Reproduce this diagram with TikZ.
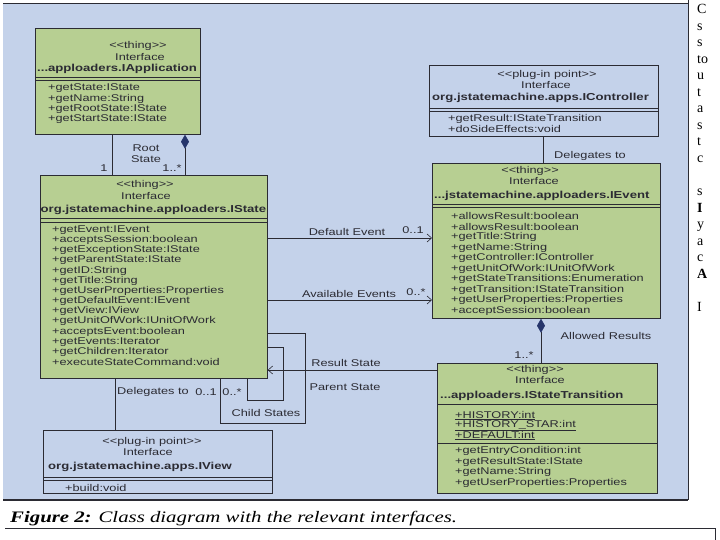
\documentclass[tikz,border=0pt]{standalone}
\usepackage{fontspec}
\setmainfont{Liberation Sans}
\newfontfamily\uml{Liberation Sans}[FakeStretch=1.3]
\newfontfamily\capfont{Liberation Serif}[FakeStretch=1.3]
\newfontfamily\bodyfont{Liberation Serif}
\usetikzlibrary{arrows.meta}
\definecolor{bg}{HTML}{C4D2EA}
\definecolor{boxgreen}{HTML}{B7CF92}
\definecolor{ink}{HTML}{2B2B33}
\definecolor{navy}{HTML}{26356B}
\begin{document}
\begin{tikzpicture}[x=1pt,y=-1pt,
  cls/.style={draw=ink, line width=0.7pt, anchor=north west, inner sep=0pt},
  greenbox/.style={fill=boxgreen},
  plugbox/.style={fill=bg},
  txt/.style={font=\uml\fontsize{9.8}{10}\selectfont, text=ink, inner sep=0pt},
  meth/.style={txt, anchor=west},
  head/.style={txt, anchor=center},
  cname/.style={font=\uml\bfseries\fontsize{10.1}{11}\selectfont, text=ink, inner sep=0pt, anchor=west},
  lab/.style={txt, anchor=center},
  conn/.style={draw=ink, line width=0.6pt},
  sepline/.style={draw=ink, line width=0.6pt},
  openarrow/.style={-{Straight Barb[length=4.5pt,width=8pt]}},
  aggr/.style={{Diamond[length=14pt,width=8pt,color=navy,fill=navy]}-},
]
\useasboundingbox (0,0) rectangle (720,540);
\fill[white] (0,0) rectangle (720,540);
\fill[bg] (3,3) rectangle (688,500);
\draw[ink, line width=0.6pt] (3,3) -- (688,3);
\draw[ink, line width=1pt] (688,0) -- (688,500);
\draw[ink, line width=1.3pt] (3,500) -- (688,500);
\draw[ink, line width=1pt] (5,528) -- (715,528) -- (715,540);

% ---------- class boxes ----------
\node[cls,greenbox,minimum width=165pt,minimum height=106pt] (iapp) at (35,28) {};
\node[cls,greenbox,minimum width=227pt,minimum height=203pt] (istate) at (40,175) {};
\node[cls,plugbox,minimum width=229pt,minimum height=71pt] (icontroller) at (429,65) {};
\node[cls,greenbox,minimum width=228pt,minimum height=155pt] (ievent) at (432,163) {};
\node[cls,greenbox,minimum width=220pt,minimum height=130pt] (itrans) at (437,363) {};
\node[cls,plugbox,minimum width=229pt,minimum height=63pt] (iview) at (43,430) {};

% IApplication
\node[head] (iappst) at (138,46) {<{}<thing>{}>};
\node[head] (iappif) at (140,57) {Interface};
\node[cname] (iappnm) at (37,69) {...apploaders.IApplication};
\draw[sepline] (35,77) -- (200,77);
\draw[sepline] (35,80.5) -- (200,80.5);
\foreach \m [count=\i from 0] in {+getState:IState,+getName:String,+getRootState:IState,+getStartState:IState}
  \node[meth] (iappm\i) at (48,{88+10.5*\i}) {\m};

% IState
\node[head] (istst) at (145,185) {<{}<thing>{}>};
\node[head] (istif) at (146,196) {Interface};
\node[cname] (istnm) at (40.5,210) {org.jstatemachine.apploaders.IState};
\draw[sepline] (40,218) -- (267,218);
\draw[sepline] (40,222) -- (267,222);
\foreach \m [count=\i from 0] in {+getEvent:IEvent,+acceptsSession:boolean,+getExceptionState:IState,+getParentState:IState,+getID:String,+getTitle:String,+getUserProperties:Properties,+getDefaultEvent:IEvent,+getView:IView,+getUnitOfWork:IUnitOfWork,+acceptsEvent:boolean,+getEvents:Iterator,+getChildren:Iterator,+executeStateCommand:void}
  \node[meth] (istm\i) at (52,{230+10.15*\i}) {\m};

% IController
\node[head] (ictst) at (547,75) {<{}<plug-in point>{}>};
\node[head] (ictif) at (546,85) {Interface};
\node[cname] (ictnm) at (432,98) {org.jstatemachine.apps.IController};
\draw[sepline] (429,108) -- (658,108);
\draw[sepline] (429,111.5) -- (658,111.5);
\node[meth] (ictm0) at (448,118.5) {+getResult:IStateTransition};
\node[meth] (ictm1) at (448,129) {+doSideEffects:void};

% IEvent
\node[head] (ievst) at (530,171) {<{}<thing>{}>};
\node[head] (ievif) at (534,181) {Interface};
\node[cname] (ievnm) at (434,196) {...jstatemachine.apploaders.IEvent};
\draw[sepline] (432,204) -- (660,204);
\draw[sepline] (432,207.5) -- (660,207.5);
\foreach \m [count=\i from 0] in {+allowsResult:boolean,+allowsResult:boolean,+getTitle:String,+getName:String,+getController:IController,+getUnitOfWork:IUnitOfWork,+getStateTransitions:Enumeration,+getTransition:IStateTransition,+getUserProperties:Properties,+acceptSession:boolean}
  \node[meth] (ievm\i) at (451,{216+10.5*\i}) {\m};

% IStateTransition
\node[head] (itrst) at (535,370) {<{}<thing>{}>};
\node[head] (itrif) at (540,380) {Interface};
\node[cname] (itrnm) at (440,396) {...apploaders.IStateTransition};
\draw[sepline] (437,404) -- (657,404);
\node[meth] (itra0) at (455,415.5) {\underline{+HISTORY:int}};
\node[meth] (itra1) at (455,425.5) {\underline{+HISTORY\_STAR:int}};
\node[meth] (itra2) at (455,435.5) {\underline{+DEFAULT:int}};
\draw[sepline] (437,443) -- (657,443);
\foreach \m [count=\i from 0] in {+getEntryCondition:int,+getResultState:IState,+getName:String,+getUserProperties:Properties}
  \node[meth] (itrm\i) at (455,{451+10.5*\i}) {\m};

% IView
\node[head] (ivwst) at (152,442) {<{}<plug-in point>{}>};
\node[head] (ivwif) at (148,452) {Interface};
\node[cname] (ivwnm) at (48,467) {org.jstatemachine.apps.IView};
\draw[sepline] (43,477) -- (272,477);
\draw[sepline] (43,480.5) -- (272,480.5);
\node[meth] (ivwm0) at (65,487.5) {+build:void};

% ---------- helper coordinates ----------
\coordinate (xA) at (112,0);
\coordinate (xB) at (185,0);
\coordinate (xC) at (543,0);
\coordinate (yD) at (0,238);
\coordinate (yE) at (0,300);
\coordinate (yF) at (0,370);
\coordinate (yG) at (0,333);
\coordinate (pA) at (305,423);
\coordinate (xI) at (220,0);
\coordinate (yJ) at (0,347);
\coordinate (pB) at (283,400);
\coordinate (xK) at (247,0);
\coordinate (xL) at (115,0);
\coordinate (xM) at (541,0);

% ---------- connectors ----------
\draw[conn] (iapp.south -| xA) -- (istate.north -| xA);
\draw[conn,aggr] (iapp.south -| xB) -- (istate.north -| xB);
\draw[conn] (icontroller.south -| xC) -- (ievent.north -| xC);
\draw[conn,openarrow] (istate.east |- yD) -- (ievent.west |- yD);
\draw[conn,openarrow] (istate.east |- yE) -- (ievent.west |- yE);
\draw[conn,openarrow] (itrans.west |- yF) -- (istate.east |- yF);
\draw[conn] (istate.east |- yG) -- (pA |- yG) -- (pA) -- (pA -| xI) -- (istate.south -| xI);
\draw[conn] (istate.east |- yJ) -- (pB |- yJ) -- (pB) -- (pB -| xK) -- (istate.south -| xK);
\draw[conn] (istate.south -| xL) -- (iview.north -| xL);
\draw[conn,aggr] (ievent.south -| xM) -- (itrans.north -| xM);

% ---------- connector labels ----------
\node[lab] (lroot) at (146,148) {Root};
\node[lab] (lstate) at (146,159) {State};
\node[lab] (lone) at (104,168) {1};
\node[lab] (lonestar) at (172,168) {1..*};
\node[lab] (ldeleg1) at (590,156) {Delegates to};
\node[lab] (ldefev) at (347,232) {Default Event};
\node[lab] (ldefm) at (413,230) {0..1};
\node[lab] (lavail) at (349,294) {Available Events};
\node[lab] (lavailm) at (416,292) {0..*};
\node[lab] (lresult) at (346,363) {Result State};
\node[lab] (lparent) at (345,387) {Parent State};
\node[lab] (lchild) at (266,413) {Child States};
\node[lab] (ldeleg2) at (153,392) {Delegates to};
\node[lab] (ldelm1) at (206,392) {0..1};
\node[lab] (ldelm2) at (232,392) {0..*};
\node[lab] (lallowed) at (606,336) {Allowed Results};
\node[lab] (lallowm) at (524,355) {1..*};

% ---------- caption ----------
\node[anchor=base west, inner sep=0pt, font=\capfont\itshape\fontsize{16}{16}\selectfont, text=black] (caption) at (10,522)
  {\textbf{Figure 2:} Class diagram with the relevant interfaces.};

% ---------- cut-off text at the right edge ----------
\foreach \t/\i in {C/0,s/1,s/2,to/3,u/4,t/5,a/6,s/7,t/8,c/9,s/11,\textbf{I}/12,y/13,a/14,c/15,\textbf{A}/16,I/18}
  \node[anchor=base west, inner sep=0pt, font=\bodyfont\fontsize{14}{14}\selectfont, text=black] at (697,{14+16.5*\i}) {\t};
\end{tikzpicture}
\end{document}
